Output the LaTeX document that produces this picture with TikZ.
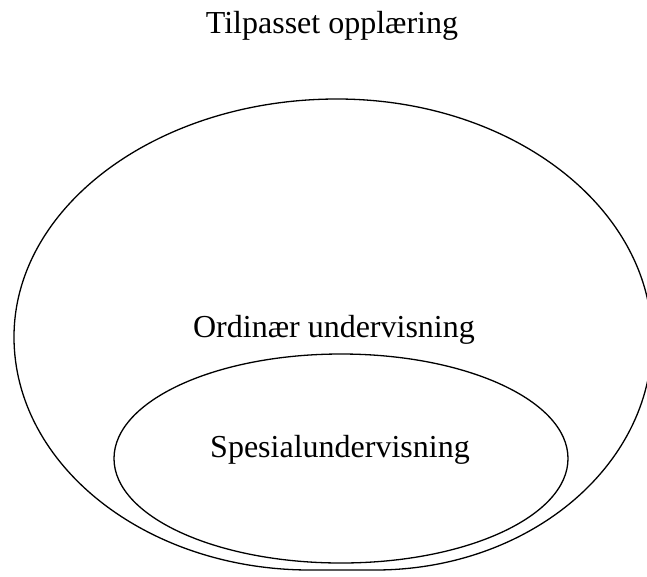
\documentclass[tikz,border=0pt]{standalone}
\usepackage{fontspec}
\setmainfont{Liberation Serif}
\begin{document}
\begin{tikzpicture}[x=1pt,y=-1pt,
  lbl/.style={font=\fontsize{32}{36}\selectfont, inner sep=0pt, anchor=base},
  ring/.style={draw=black, line width=1.3pt}]
\useasboundingbox (0,0) rectangle (647,576);
\node[lbl] (title) at (332,33) {Tilpasset opplæring};
% outer oval (slightly fuller towards the lower right)
\draw[ring] (14,337)
  arc[start angle=180, end angle=270, x radius=323, y radius=238]
  arc[start angle=270, end angle=360, x radius=315, y radius=241]
  arc[start angle=0,   end angle=90,  x radius=277, y radius=230]
  -- (310,570)
  arc[start angle=90,  end angle=180, x radius=296, y radius=233]
  -- cycle;
% inner oval
\draw[ring] (341,458.5) ellipse [x radius=227, y radius=104.5];
\node[lbl] (ord) at (334,337) {Ordinær undervisning};
\node[lbl] (spes) at (340,457) {Spesialundervisning};
\end{tikzpicture}
\end{document}
